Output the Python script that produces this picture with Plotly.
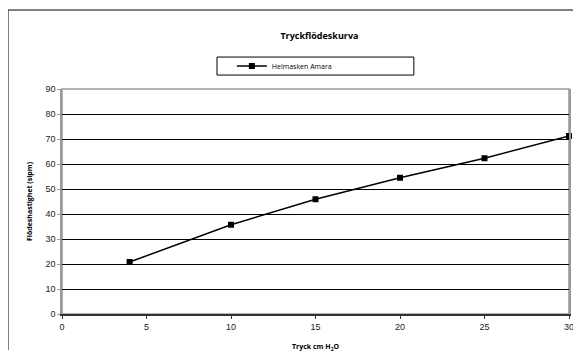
import plotly.graph_objects as go

# data
tryck = [4, 10, 15, 20, 25, 30]
flode = [20.8, 35.7, 45.9, 54.5, 62.3, 71.2]
serie_namn = "Helmasken Amara"

fig = go.Figure()

fig.add_trace(go.Scatter(
    x=tryck, y=flode,
    mode="lines+markers",
    name=serie_namn,
    line=dict(color="black", width=1.5),
    marker=dict(symbol="square", size=6, color="black"),
    cliponaxis=False,
))

title_font = dict(family="Open Sans", size=9, color="black", weight="bold")
axis_font = dict(family="Open Sans", size=7, color="black", weight="bold")
tick_font = dict(family="Liberation Sans", size=9, color="#222")

# the page body adds an 8px margin, so the figure is made smaller to avoid scrollbars
fig.update_layout(
    width=573, height=344,
    paper_bgcolor="white", plot_bgcolor="white",
    margin=dict(l=54, r=12, t=81, b=38, autoexpand=False),
    showlegend=True,
    title=dict(text="Tryckflödeskurva", font=title_font,
               x=0.5435, xanchor="center", y=1 - 28 / 344, yanchor="middle"),
    legend=dict(orientation="h", x=0.335, xanchor="left",
                y=1.102, yanchor="middle",
                font=dict(family="Open Sans", size=7, color="black"),
                bgcolor="rgba(0,0,0,0)", borderwidth=0),
    xaxis=dict(range=[0, 30], dtick=5, showgrid=False, zeroline=False,
               showline=True, linecolor="#333", linewidth=1.5,
               ticks="outside", ticklen=3, tickcolor="#333",
               tickfont=tick_font, automargin=False,
               title=dict(text="Tryck cm H<sub>2</sub>O", font=axis_font, standoff=14)),
    yaxis=dict(range=[0, 90], dtick=10, showgrid=True, gridcolor="black", gridwidth=1,
               zeroline=False, showline=True, linecolor="#999", linewidth=1.5,
               mirror=True, automargin=False,
               ticks="outside", ticklen=3, tickcolor="#999",
               tickfont=tick_font,
               title=dict(text="Flödeshastighet (slpm)", font=axis_font, standoff=12)),
    shapes=[
        # outer chart frame (left and top edges, kept inside the figure)
        dict(type="line", xref="paper", yref="paper",
             x0=-0.1065, x1=-0.1065, y0=-0.16, y1=1.351,
             line=dict(color="black", width=1), layer="below"),
        dict(type="line", xref="paper", yref="paper",
             x0=-0.1065, x1=1.02, y0=1.351, y1=1.351,
             line=dict(color="black", width=1), layer="below"),
        # plot area border
        dict(type="rect", xref="paper", yref="paper",
             x0=0, x1=1, y0=0, y1=1,
             line=dict(color="#999", width=1.5), layer="below"),
        # legend box
        dict(type="rect", xref="paper", yref="paper",
             x0=0.3057, x1=0.694, y0=1.062, y1=1.142,
             line=dict(color="black", width=1)),
    ],
)

fig.write_html("out.html")
